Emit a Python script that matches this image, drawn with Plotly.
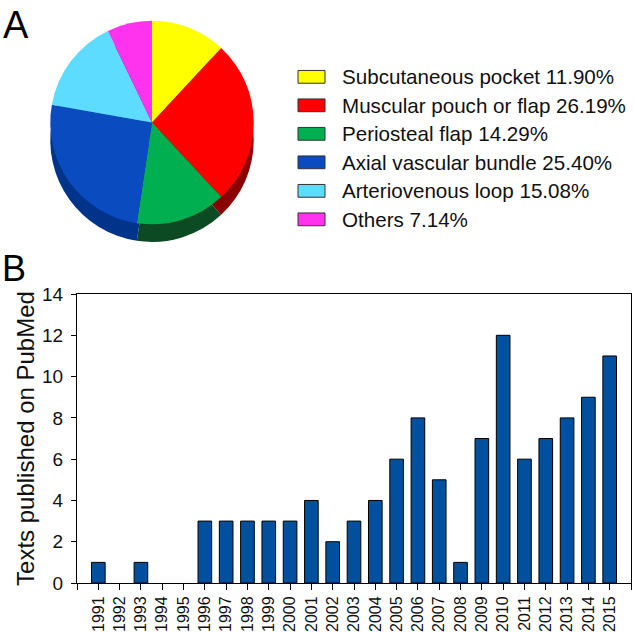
import plotly.graph_objects as go

# ---- data ----
pie_labels = ["Subcutaneous pocket", "Muscular pouch or flap", "Periosteal flap",
              "Axial vascular bundle", "Arteriovenous loop", "Others"]
pie_values = [11.90, 26.19, 14.29, 25.40, 15.08, 7.14]
pie_colors = ["#FFFF00", "#FF0000", "#00B050", "#0A4CC0", "#5DDCFF", "#FF33EE"]
pie_side_colors = ["#7A7A00", "#8A0000", "#0B4A22", "#00338A", "#2A8AA8", "#8A1A80"]

years = [str(y) for y in range(1991, 2016)]
counts = [1, 0, 1, 0, 0, 3, 3, 3, 3, 3, 4, 2, 3, 4, 6, 8, 5, 1, 7, 12, 6, 7, 8, 9, 11]

W, H = 634, 632
MB = 49
PH = H - MB  # paper height in px


def py(p):  # pixel y (from top) -> paper y
    return 1 - p / PH


def px(p):
    return p / W


FONT = "Arial, Liberation Sans, sans-serif"

fig = go.Figure()

# pie "depth" (darker copy, slightly lower)
fig.add_trace(go.Pie(
    labels=pie_labels, values=pie_values, sort=False, direction="clockwise",
    rotation=0, marker=dict(colors=pie_side_colors, line=dict(width=0)),
    textinfo="none", hoverinfo="skip", showlegend=False,
    domain=dict(x=[px(26), px(278)], y=[py(236), py(29)]),
))
# pie top face
fig.add_trace(go.Pie(
    labels=pie_labels, values=pie_values, sort=False, direction="clockwise",
    rotation=0, marker=dict(colors=pie_colors, line=dict(width=0)),
    textinfo="none", showlegend=False,
    domain=dict(x=[px(26), px(278)], y=[py(218), py(11)]),
))

# bars
fig.add_trace(go.Bar(
    x=list(range(len(years))), y=counts, width=0.64,
    marker=dict(color="#0050A0",
                line=dict(color="#000000", width=[1 if c > 0 else 0 for c in counts])),
    showlegend=False,
))

shapes = []
annotations = []
row0, dy = 68, 29
for i, (lab, val, col) in enumerate(zip(pie_labels, pie_values, pie_colors)):
    yc = row0 + i * dy
    shapes.append(dict(type="rect", xref="paper", yref="paper",
                       x0=px(298), x1=px(325), y0=py(yc - 6.5), y1=py(yc + 6.5),
                       fillcolor=col, line=dict(color="#333333", width=1)))
    annotations.append(dict(text=f"{lab} {val:.2f}%", xref="paper", yref="paper",
                            x=px(340), y=py(yc), xanchor="left", yanchor="middle",
                            showarrow=False, font=dict(size=20.6, color="#111111", family=FONT)))

annotations.append(dict(text="A", xref="paper", yref="paper", x=px(1), y=py(-8),
                        xanchor="left", yanchor="top", showarrow=False,
                        font=dict(size=38, color="#000000", family=FONT)))
annotations.append(dict(text="B", xref="paper", yref="paper", x=px(0), y=py(240),
                        xanchor="left", yanchor="top", showarrow=False,
                        font=dict(size=36, color="#000000", family=FONT)))

tickvals = list(range(-1, len(years) + 1))
ticktext = [""] + years + [""]

fig.update_layout(
    width=W, height=H,
    margin=dict(l=0, r=0, t=0, b=MB, pad=0),
    paper_bgcolor="white", plot_bgcolor="white",
    font=dict(family=FONT, color="#111111"),
    shapes=shapes, annotations=annotations,
    xaxis=dict(domain=[px(77), px(631)], range=[-1, len(years)],
               tickvals=tickvals, ticktext=ticktext, tickangle=-90,
               ticks="outside", ticklen=6, tickcolor="#000", tickwidth=1,
               showline=True, linecolor="#000", linewidth=1, mirror=True,
               showgrid=False, zeroline=False,
               tickfont=dict(size=16, family=FONT, color="#111111")),
    yaxis=dict(domain=[0, 1 - 289 / PH], range=[0, 14], dtick=2,
               ticks="outside", ticklen=5, tickcolor="#000", tickwidth=1,
               showline=True, linecolor="#000", linewidth=1, mirror=True,
               showgrid=False, zeroline=False, ticklabelstandoff=4,
               tickfont=dict(size=19, family=FONT, color="#111111"),
               title=dict(text="Texts published on PubMed", standoff=0,
                          font=dict(size=24, family=FONT, color="#111111"))),
    bargap=0.36,
)

fig.write_html("out.html", config={"displayModeBar": False},
               post_script="document.body.style.margin='0';")
